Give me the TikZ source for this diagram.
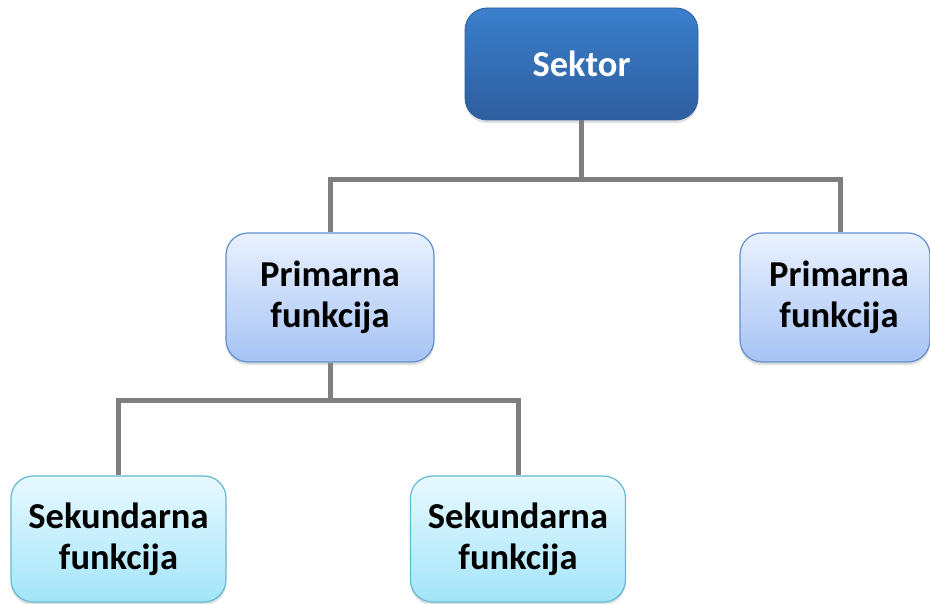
\documentclass[tikz,border=0pt]{standalone}
\usepackage{fontspec}
\setmainfont{Carlito}
\usetikzlibrary{shadows}
\definecolor{topA}{HTML}{3B7FCC}
\definecolor{botA}{HTML}{2E5E9E}
\definecolor{topB}{HTML}{EAF1FE}
\definecolor{botB}{HTML}{A6C3F4}
\definecolor{edgeB}{HTML}{5F8FCB}
\definecolor{topC}{HTML}{E8F9FF}
\definecolor{botC}{HTML}{A3E5F9}
\definecolor{edgeC}{HTML}{62B9D3}
\definecolor{linkc}{HTML}{7F7F7F}
\tikzset{
  basebox/.style={rounded corners=22pt, align=center, font=\fontsize{36.5}{41}\selectfont\bfseries,
    drop shadow={opacity=0.25, shadow xshift=0pt, shadow yshift=-3pt}},
  topbox/.style={basebox, top color=topA, bottom color=botA, draw=botA, line width=0.8pt, text=white,
    minimum width=233pt, minimum height=112pt},
  primbox/.style={basebox, top color=topB, bottom color=botB, draw=edgeB, line width=1.2pt, text=black,
    minimum width=208pt, minimum height=129pt},
  secbox/.style={basebox, top color=topC, bottom color=botC, draw=edgeC, line width=1.2pt, text=black,
    minimum width=215pt, minimum height=126pt},
  link/.style={draw=linkc, line width=5pt}
}
\begin{document}
\begin{tikzpicture}[x=1pt,y=-1pt]
\useasboundingbox (0,0) rectangle (930,604);
\node[topbox] (s) at (581.5,64) {Sektor};
\node[primbox] (p1) at (330,297.5) {Primarna\\funkcija};
\node[primbox, minimum width=190pt] (p2) at (835,297.5) {\hspace*{8pt}Primarna\\\hspace*{8pt}funkcija};
\node[secbox] (k1) at (118.5,539) {Sekundarna\\funkcija};
\node[secbox] (k2) at (518,539) {Sekundarna\\funkcija};
\coordinate (b1) at (581.5,180);
\coordinate (b2) at (330,400);
\draw[link] (s.south) -- (b1);
\draw[link] (p1.north) |- (b1) -| ([xshift=5pt]p2.north);
\draw[link] (p1.south) -- (b2);
\draw[link] (k1.north) |- (b2) -| (k2.north);
\end{tikzpicture}
\end{document}
